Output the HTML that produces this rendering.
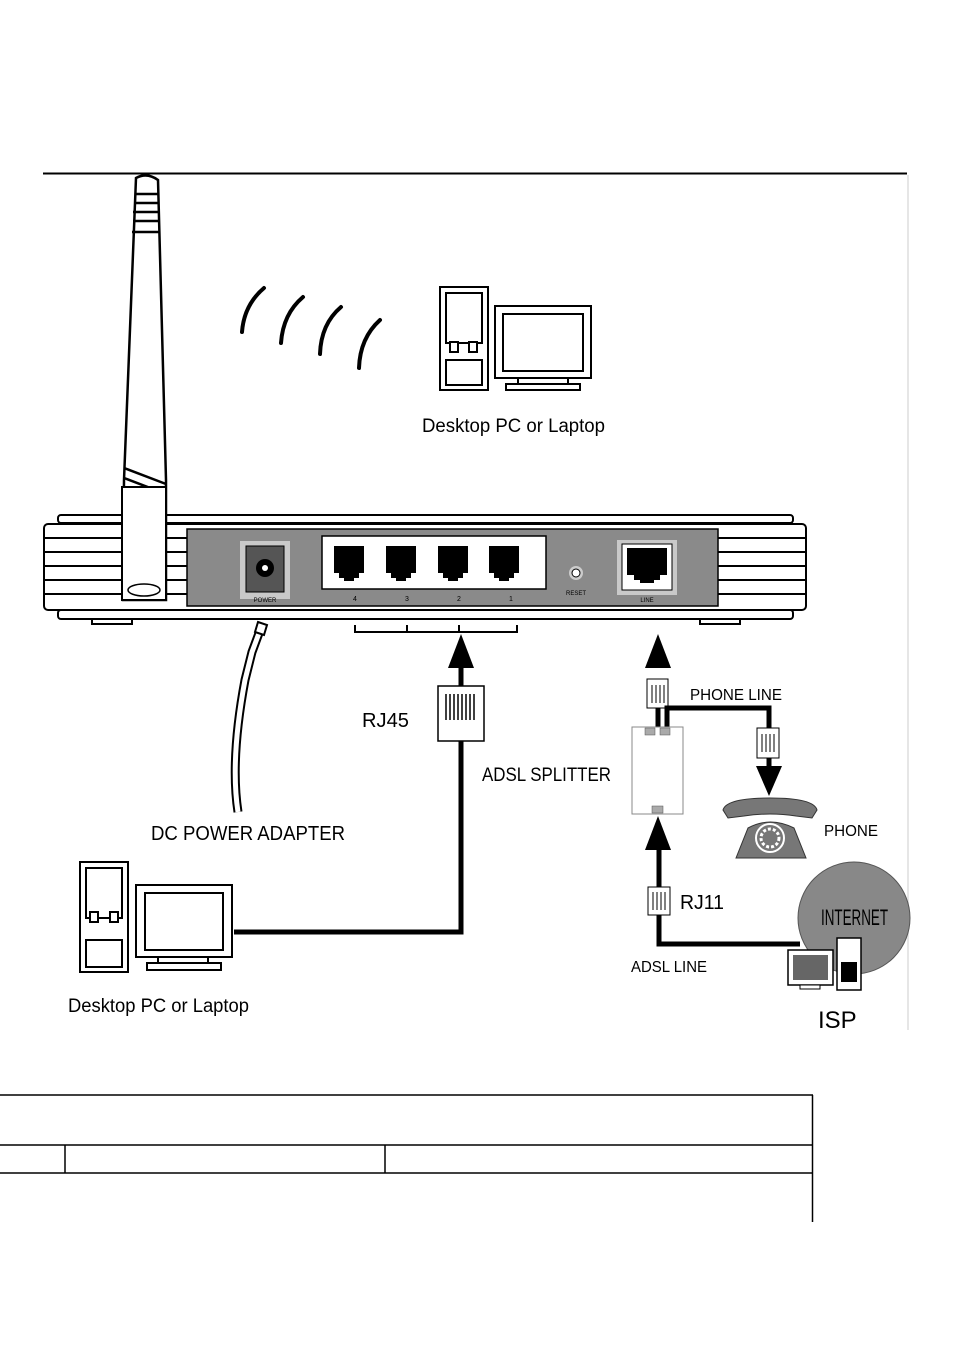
<!DOCTYPE html>
<html><head><meta charset="utf-8"><style>
html,body{margin:0;padding:0;background:#fff;}
svg{display:block;}
text{font-family:"Liberation Sans",sans-serif;}
</style></head><body>
<svg width="954" height="1350" viewBox="0 0 954 1350">
<line x1="43" y1="173.5" x2="907" y2="173.5" stroke="#000" stroke-width="2"/>
<line x1="908" y1="175" x2="908" y2="1030" stroke="#ddd" stroke-width="1.5"/>

<g fill="none" stroke="#000" stroke-width="4" stroke-linecap="round">
<path d="M264 288 Q244 305 242 332"/>
<path d="M303 297 Q283 314 281 343"/>
<path d="M341 307 Q321 324 320 354"/>
<path d="M380 320 Q360 338 359 368"/>
</g>

<g stroke="#000" stroke-width="2" fill="#fff">
<rect x="440" y="287" width="48" height="103"/>
<rect x="446" y="293" width="36" height="50"/>
<rect x="446" y="360" width="36" height="25"/>
<rect x="450" y="342" width="8" height="10"/>
<rect x="469" y="342" width="8" height="10"/>
<rect x="495" y="306" width="96" height="72"/>
<rect x="503" y="314" width="80" height="57"/>
<rect x="518" y="378" width="50" height="6"/>
<rect x="506" y="384" width="74" height="6"/>
</g>
<text x="422" y="432" font-size="19" textLength="183" lengthAdjust="spacingAndGlyphs">Desktop PC or Laptop</text>

<g stroke="#000" stroke-width="2" fill="#fff">
<rect x="58" y="515" width="735" height="8" rx="3"/>
<rect x="44" y="524" width="762" height="86" rx="4"/>
<rect x="58" y="610" width="735" height="9" rx="3"/>
</g>
<g stroke="#000" stroke-width="2">
<line x1="44" y1="538" x2="187" y2="538"/><line x1="44" y1="552" x2="187" y2="552"/>
<line x1="44" y1="566" x2="187" y2="566"/><line x1="44" y1="580" x2="187" y2="580"/>
<line x1="44" y1="594" x2="187" y2="594"/>
<line x1="718" y1="538" x2="806" y2="538"/><line x1="718" y1="552" x2="806" y2="552"/>
<line x1="718" y1="566" x2="806" y2="566"/><line x1="718" y1="580" x2="806" y2="580"/>
<line x1="718" y1="594" x2="806" y2="594"/>
<rect x="92" y="619" width="40" height="5" fill="#fff"/>
<rect x="700" y="619" width="40" height="5" fill="#fff"/>
</g>
<rect x="187" y="529" width="531" height="77" fill="#8a8a8a" stroke="#000" stroke-width="1.5"/>
<rect x="240" y="541" width="50" height="58" fill="#c9c9c9"/>
<rect x="246" y="546" width="38" height="46" fill="#555" stroke="#000"/>
<circle cx="265" cy="568" r="9" fill="#000"/><circle cx="265" cy="568" r="3" fill="#fff"/>
<text x="265" y="602" font-size="6" text-anchor="middle" fill="#000">POWER</text>
<rect x="322" y="536" width="224" height="53" fill="#fff" stroke="#000" stroke-width="1.5"/>
<g fill="#000">
<path d="M334 546h30v27h-5v5h-5v3h-10v-3h-5v-5h-5z"/>
<path d="M386 546h30v27h-5v5h-5v3h-10v-3h-5v-5h-5z"/>
<path d="M438 546h30v27h-5v5h-5v3h-10v-3h-5v-5h-5z"/>
<path d="M489 546h30v27h-5v5h-5v3h-10v-3h-5v-5h-5z"/>
</g>
<g font-size="7" text-anchor="middle"><text x="355" y="601">4</text><text x="407" y="601">3</text><text x="459" y="601">2</text><text x="511" y="601">1</text>
<text x="576" y="595" font-size="6">RESET</text><text x="647" y="602" font-size="6">LINE</text></g>
<circle cx="576" cy="573" r="7" fill="#ccc"/><circle cx="576" cy="573" r="4" fill="#fff" stroke="#000"/>
<rect x="617" y="540" width="60" height="55" fill="#c9c9c9"/>
<rect x="622" y="544" width="50" height="46" fill="#fff" stroke="#000"/>
<path d="M627 548h40v27h-7v5h-6v3h-14v-3h-6v-5h-7z" fill="#000"/>

<path d="M136 178 Q147 172 158 180 L166 480 L166 600 L123 600 L124 480 Z" fill="#fff" stroke="#000" stroke-width="2.5"/>
<g stroke="#000" stroke-width="2.5"><line x1="135" y1="194" x2="158" y2="194"/><line x1="134" y1="203" x2="159" y2="203"/><line x1="133" y1="212" x2="159" y2="212"/><line x1="133" y1="221" x2="160" y2="221"/><line x1="132" y1="232" x2="160" y2="232"/>
<path d="M124 468 L166 484"/><path d="M124 478 L166 494"/></g>
<rect x="122" y="487" width="44" height="113" fill="#fff" stroke="#000" stroke-width="2"/>
<ellipse cx="144" cy="590" rx="16" ry="6" fill="#fff" stroke="#000" stroke-width="1.5"/>

<path d="M355 625 v7 h162 v-7 M407 625 v7 M459 625 v7" fill="none" stroke="#000" stroke-width="2"/>

<path d="M262 625 L252 652 L245 680 Q230 760 238 812" fill="none" stroke="#000" stroke-width="9"/>
<path d="M262 625 L252 652 L245 680 Q230 760 238 812" fill="none" stroke="#fff" stroke-width="5"/>
<path d="M258 622 l9 3 l-3 10 l-9 -3z" fill="#fff" stroke="#000" stroke-width="2"/>
<text x="151" y="840" font-size="20" textLength="194" lengthAdjust="spacingAndGlyphs">DC POWER ADAPTER</text>

<path d="M234 932 H461 V660" fill="none" stroke="#000" stroke-width="5"/>
<path d="M461 634 L474 668 L448 668 Z" fill="#000"/>
<rect x="438" y="686" width="46" height="55" fill="#fff" stroke="#000" stroke-width="1.5"/>
<g stroke="#000" stroke-width="1.5"><line x1="446" y1="694" x2="446" y2="720"/><line x1="450" y1="694" x2="450" y2="720"/><line x1="454" y1="694" x2="454" y2="720"/><line x1="458" y1="694" x2="458" y2="720"/><line x1="462" y1="694" x2="462" y2="720"/><line x1="466" y1="694" x2="466" y2="720"/><line x1="470" y1="694" x2="470" y2="720"/><line x1="474" y1="694" x2="474" y2="720"/></g>
<text x="362" y="727" font-size="20" textLength="47" lengthAdjust="spacingAndGlyphs">RJ45</text>
<text x="482" y="781" font-size="19" textLength="129" lengthAdjust="spacingAndGlyphs">ADSL SPLITTER</text>

<g stroke="#000" stroke-width="2" fill="#fff">
<rect x="80" y="862" width="48" height="110"/>
<rect x="86" y="868" width="36" height="50"/>
<rect x="86" y="940" width="36" height="27"/>
<rect x="90" y="912" width="8" height="10"/>
<rect x="110" y="912" width="8" height="10"/>
<rect x="136" y="885" width="96" height="72"/>
<rect x="145" y="893" width="78" height="57"/>
<rect x="158" y="957" width="50" height="6"/>
<rect x="147" y="963" width="74" height="7"/>
</g>
<text x="68" y="1012" font-size="19" textLength="181" lengthAdjust="spacingAndGlyphs">Desktop PC or Laptop</text>

<path d="M658 727 V680" stroke="#000" stroke-width="5"/>
<path d="M658 634 L671 668 L645 668 Z" fill="#000"/>
<rect x="647" y="679" width="21" height="29" fill="#fff" stroke="#000"/>
<g stroke="#000"><line x1="652" y1="685" x2="652" y2="703"/><line x1="656" y1="685" x2="656" y2="703"/><line x1="660" y1="685" x2="660" y2="703"/><line x1="664" y1="685" x2="664" y2="703"/></g>
<path d="M667 727 V708 H769 V770" fill="none" stroke="#000" stroke-width="5"/>
<rect x="757" y="728" width="22" height="30" fill="#fff" stroke="#000"/>
<g stroke="#000"><line x1="762" y1="734" x2="762" y2="752"/><line x1="766" y1="734" x2="766" y2="752"/><line x1="770" y1="734" x2="770" y2="752"/><line x1="774" y1="734" x2="774" y2="752"/></g>
<path d="M769 796 L756 766 L782 766 Z" fill="#000"/>
<text x="690" y="700" font-size="16" textLength="92" lengthAdjust="spacingAndGlyphs">PHONE LINE</text>
<rect x="632" y="727" width="51" height="87" fill="#fff" stroke="#888" stroke-width="1"/>
<rect x="645" y="728" width="10" height="7" fill="#aaa" stroke="#555" stroke-width=".5"/>
<rect x="660" y="728" width="10" height="7" fill="#aaa" stroke="#555" stroke-width=".5"/>
<rect x="652" y="806" width="11" height="7" fill="#aaa" stroke="#555" stroke-width=".5"/>
<path d="M723 810 Q726 798 770 798 Q814 798 817 810 L812 818 L796 816 Q770 812 744 816 L728 818 Z" fill="#777" stroke="#333"/>
<path d="M736 858 L748 828 Q770 816 794 828 L806 858 Z" fill="#777" stroke="#333"/>
<circle cx="770" cy="838" r="14" fill="none" stroke="#fff" stroke-width="2"/>
<circle cx="770" cy="838" r="9" fill="#777" stroke="#fff" stroke-width="3" stroke-dasharray="3 2"/>
<text x="824" y="836" font-size="16" textLength="54" lengthAdjust="spacingAndGlyphs">PHONE</text>

<path d="M659 842 V944 H800" fill="none" stroke="#000" stroke-width="5"/>
<path d="M658 816 L671 850 L645 850 Z" fill="#000"/>
<rect x="648" y="887" width="22" height="28" fill="#fff" stroke="#000"/>
<g stroke="#000"><line x1="653" y1="892" x2="653" y2="910"/><line x1="657" y1="892" x2="657" y2="910"/><line x1="661" y1="892" x2="661" y2="910"/><line x1="665" y1="892" x2="665" y2="910"/></g>
<text x="680" y="909" font-size="20" textLength="44" lengthAdjust="spacingAndGlyphs">RJ11</text>
<text x="631" y="972" font-size="16" textLength="76" lengthAdjust="spacingAndGlyphs">ADSL LINE</text>
<circle cx="854" cy="918" r="56" fill="#888" stroke="#555"/>
<text x="821" y="925" font-size="22" textLength="67" lengthAdjust="spacingAndGlyphs">INTERNET</text>
<rect x="788" y="950" width="45" height="35" fill="#fff" stroke="#000" stroke-width="1.5"/>
<rect x="793" y="955" width="35" height="25" fill="#666"/>
<rect x="800" y="985" width="20" height="4" fill="#fff" stroke="#000"/>
<rect x="837" y="938" width="24" height="52" fill="#fff" stroke="#000" stroke-width="1.5"/>
<rect x="841" y="962" width="16" height="20" fill="#000"/>
<text x="818" y="1028" font-size="24">ISP</text>

<g stroke="#000" stroke-width="1.5" fill="none">
<line x1="0" y1="1095" x2="813" y2="1095"/>
<line x1="0" y1="1145" x2="813" y2="1145"/>
<line x1="0" y1="1173" x2="813" y2="1173"/>
<line x1="812.5" y1="1095" x2="812.5" y2="1222"/>
<line x1="65" y1="1145" x2="65" y2="1173"/>
<line x1="385" y1="1145" x2="385" y2="1173"/>
</g>
</svg>
</body></html>
